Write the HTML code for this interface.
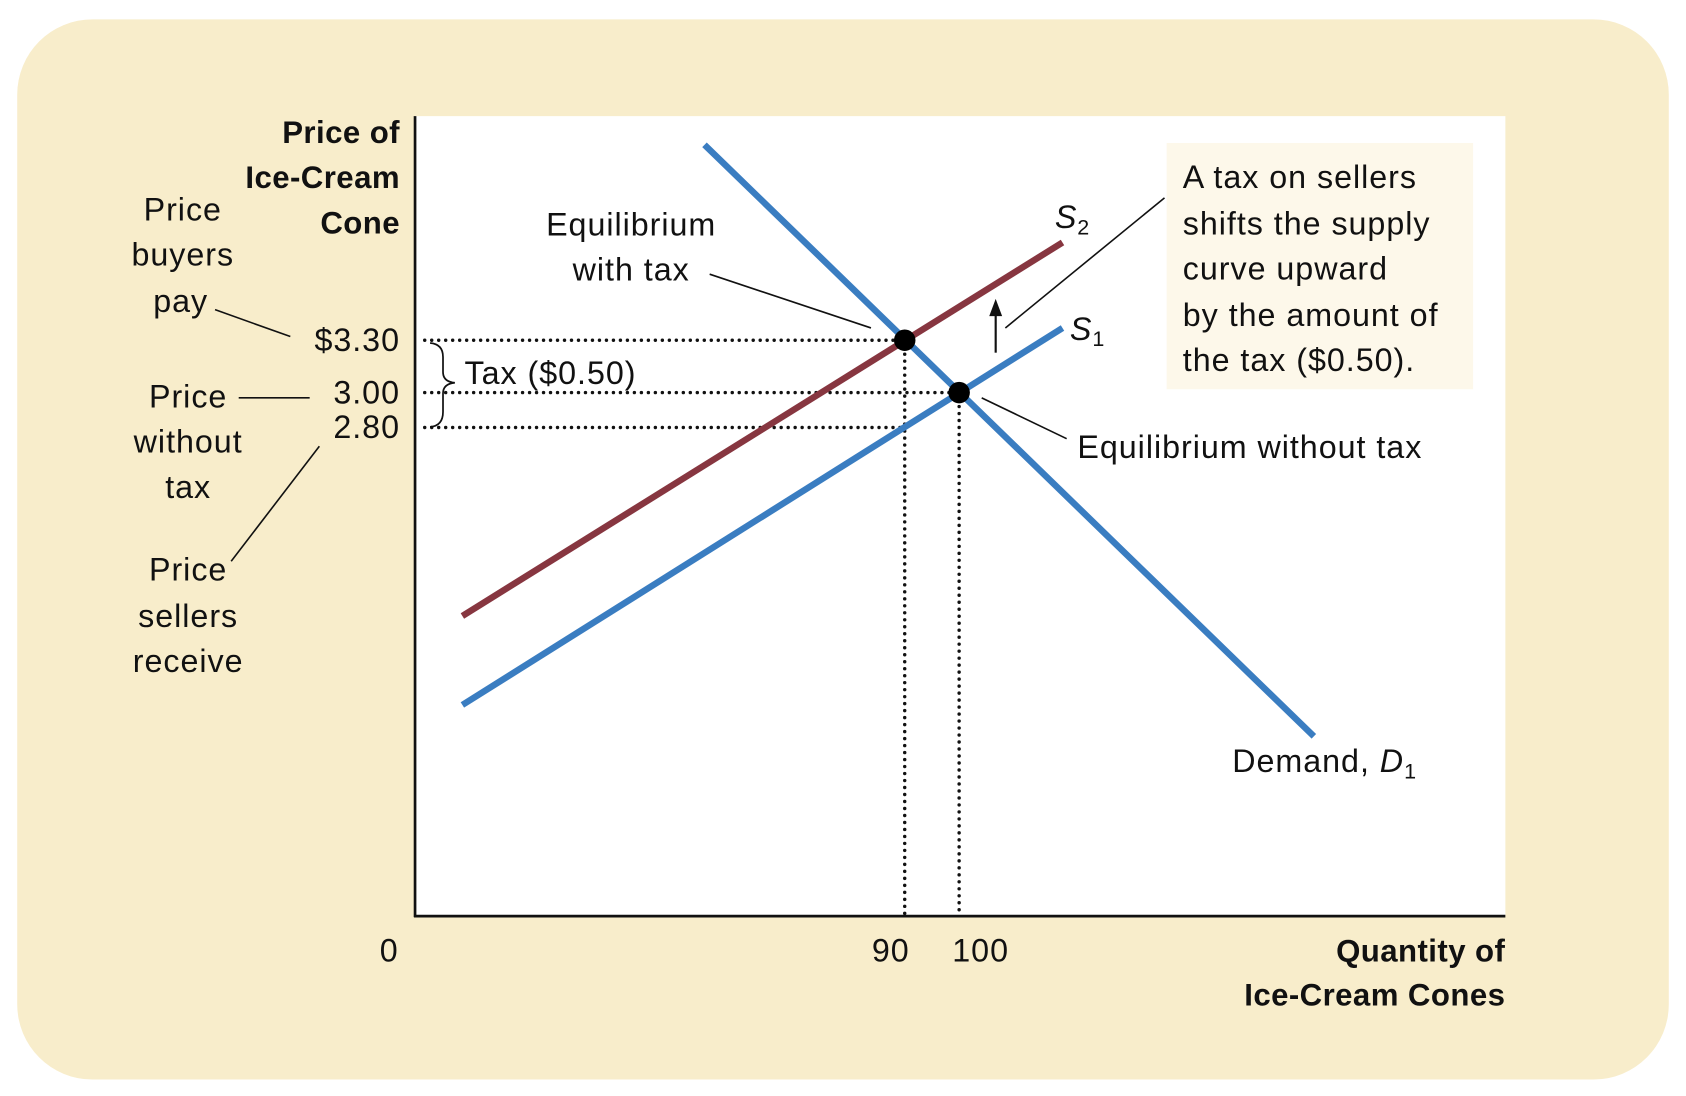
<!DOCTYPE html>
<html><head><meta charset="utf-8"><style>
html,body{margin:0;padding:0;background:#fff;}
svg{display:block;font-family:"Liberation Sans",sans-serif;}
text{fill:#111;}
.t{font-size:30px;letter-spacing:0.9px;}
.b{font-size:29px;font-weight:bold;letter-spacing:0.4px;}
</style></head><body>
<svg width="1686" height="1096" viewBox="0 0 1568 1019.3" preserveAspectRatio="none">
<rect x="16" y="18" width="1536" height="986" rx="70" fill="#F8EDCB"/>
<rect x="386" y="108" width="1014" height="744" fill="#fff"/>
<rect x="1085" y="133" width="285" height="229" fill="#FDF8EA"/>
<g id="marks"></g>
<line x1="386" y1="108" x2="386" y2="853" stroke="#111" stroke-width="2.5"/>
<line x1="385" y1="852" x2="1400" y2="852" stroke="#111" stroke-width="2.5"/>
<g class="b" text-anchor="end">
<text x="372" y="133">Price of</text><text x="372" y="175">Ice-Cream</text><text x="372" y="217">Cone</text></g>
<g class="b" text-anchor="end">
<text x="1400" y="894">Quantity of</text><text x="1400" y="935">Ice-Cream Cones</text></g>
<g class="t" text-anchor="middle">
<text x="170" y="205">Price</text><text x="170" y="247">buyers</text><text x="168" y="290">pay</text></g>
<line x1="200" y1="288" x2="270" y2="313" stroke="#111" stroke-width="1.5"/>
<g class="t" text-anchor="middle">
<text x="175" y="379">Price</text><text x="175" y="421">without</text><text x="175" y="463">tax</text></g>
<line x1="222" y1="370" x2="288" y2="370" stroke="#111" stroke-width="1.5"/>
<g class="t" text-anchor="middle">
<text x="175" y="540">Price</text><text x="175" y="583">sellers</text><text x="175" y="625">receive</text></g>
<line x1="297" y1="415" x2="215" y2="522" stroke="#111" stroke-width="1.5"/>
<g class="t" text-anchor="end" id="yticks"></g>
<g class="t" text-anchor="middle" id="xticks"></g>
<path d="M400,319 Q412,320 412,332 L412,346 Q412,355 423,356 Q412,357 412,366 L412,383 Q412,396 400,397" fill="none" stroke="#111" stroke-width="1.6"/>
<text x="432" y="357" class="t">Tax ($0.50)</text>
<g class="t" text-anchor="middle">
<text x="587" y="219">Equilibrium</text><text x="587" y="261">with tax</text></g>
<line x1="660" y1="255" x2="810" y2="305" stroke="#111" stroke-width="1.5"/>
<text x="1002" y="426" class="t">Equilibrium without tax</text>
<line x1="913" y1="370" x2="992" y2="408" stroke="#111" stroke-width="1.5"/>
<text x="981" y="212" class="t" font-style="italic">S<tspan font-size="20" font-style="normal" dy="6">2</tspan></text>
<text x="995" y="316" class="t" font-style="italic">S<tspan font-size="20" font-style="normal" dy="6">1</tspan></text>
<text x="1146" y="718" class="t">Demand, <tspan font-style="italic">D</tspan><tspan font-size="20" dy="6">1</tspan></text>
<line x1="926" y1="328" x2="926" y2="288" stroke="#111" stroke-width="2"/>
<path d="M920,294 L926,278 L932,294 Z" fill="#111"/>
<line x1="935" y1="305" x2="1083" y2="184" stroke="#111" stroke-width="1.5"/>
<g class="t">
<text x="1100" y="175">A tax on sellers</text><text x="1100" y="218">shifts the supply</text><text x="1100" y="260">curve upward</text><text x="1100" y="303">by the amount of</text><text x="1100" y="345">the tax ($0.50).</text></g>
</svg>
<script>
const curveNames=['demand','supply-s1','supply-s2'];
const curveQ0=[53.2,8.7,8.7];
const curveP0=[4.42,1.21,1.72];
const curveQ1=[165.2,119,119];
const curveP1=[1.03,3.37,3.86];
const curveColors=['#3A7DC1','#3A7DC1','#873640'];
const eqQ=[90,100];
const eqP=[3.30,3.00];
const priceTicks=[3.30,3.00,2.80];
const priceTickLabels=['$3.30','3.00','2.80'];
const qtyTicks=[0,90,100];
const qtyTickLabels=['0','90','100'];
const NS='http://www.w3.org/2000/svg';
function xS(q){return 386+q*5.06;}
function yS(p){return 852-p*162.3;}
const marks=document.getElementById('marks');
function mk(tag,attrs,parent){const e=document.createElementNS(NS,tag);for(const k in attrs)e.setAttribute(k,attrs[k]);parent.appendChild(e);return e;}
priceTicks.forEach((p,i)=>{
  const qEnd=i===1?eqQ[1]:eqQ[0];
  const l=mk('line',{x1:395,y1:yS(p),x2:xS(qEnd),y2:yS(p),stroke:'#111','stroke-width':3.2,'stroke-linecap':'round','stroke-dasharray':'0 6.5'},marks);
  
  
});
eqQ.forEach((q,i)=>{
  const l=mk('line',{x1:xS(q),y1:yS(eqP[i]),x2:xS(q),y2:852,stroke:'#111','stroke-width':3.2,'stroke-linecap':'round','stroke-dasharray':'0 6.5'},marks);
  
  
});
curveNames.forEach((n,i)=>{
  const l=mk('line',{x1:xS(curveQ0[i]),y1:yS(curveP0[i]),x2:xS(curveQ1[i]),y2:yS(curveP1[i]),stroke:curveColors[i],'stroke-width':6},marks);
  
  
});
eqQ.forEach((q,i)=>{
  const c=mk('circle',{cx:xS(q),cy:yS(eqP[i]),r:10,fill:'#000'},marks);
  
  
});
const yt=document.getElementById('yticks');
priceTicks.forEach((p,i)=>{
  const t=mk('text',{x:372,y:yS(p)+10},yt);t.textContent=priceTickLabels[i];
  
  
});
const xt=document.getElementById('xticks');
const xOff=[-24,-13,20];
qtyTicks.forEach((q,i)=>{
  const t=mk('text',{x:xS(q)+xOff[i],y:894},xt);t.textContent=qtyTickLabels[i];
  
  
});
</script>
</body></html>
